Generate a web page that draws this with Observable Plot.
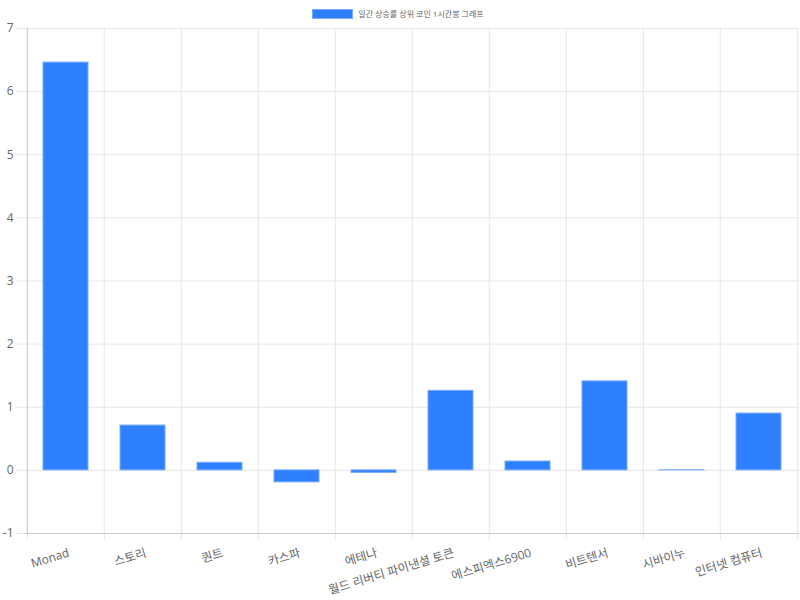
<!DOCTYPE html>
<html>
<head>
<meta charset="utf-8">
<script src="https://cdn.jsdelivr.net/npm/d3@7"></script>
<script src="https://cdn.jsdelivr.net/npm/@observablehq/plot@0.6"></script>
<style>
  html, body { margin: 0; padding: 0; background: #fff; }
  #wrap { position: relative; width: 800px; height: 600px; font-family: "Open Sans", "Noto Sans CJK KR", sans-serif; }
  #legend { position: absolute; top: 8px; left: 0; width: 800px; display: flex; justify-content: center; align-items: center; font-size: 8px; color: #666; }
  #legend .box { width: 39px; height: 8px; background: #2f80ff; border: 1px solid #78aaff; margin-right: 5px; margin-left: -4px; }
  svg { position: absolute; top: 0; left: 0; overflow: visible; }
</style>
</head>
<body>
<div id="wrap">
  <div id="legend"><span class="box"></span><span id="legendText"></span></div>
</div>
<script>
const seriesName = "일간 상승률 상위 코인 1시간봉 그래프";
const coins = ["Monad", "스토리", "퀀트", "카스파", "에테나", "월드 리버티 파이낸셜 토큰", "에스피엑스6900", "비트텐서", "시바이누", "인터넷 컴퓨터"];
const changes = [6.46, 0.71, 0.12, -0.19, -0.04, 1.26, 0.14, 1.41, 0.002, 0.90];
const yTicks = [-1, 0, 1, 2, 3, 4, 5, 6, 7];

document.getElementById("legendText").textContent = seriesName;

const data = coins.map((c, i) => ({coin: c, value: changes[i]}));
const W = 800, H = 600, mL = 25, mR = 1, mT = 28, mB = 67;
const step = (W - mL - mR) / coins.length;
const grid = "#e6e6e6";

const chart = Plot.plot({
  width: W,
  height: H,
  marginLeft: mL,
  marginRight: mR,
  marginTop: mT,
  marginBottom: mB,
  style: {fontFamily: '"Open Sans", "Noto Sans CJK KR", sans-serif', fontSize: "12px", color: "#666", background: "transparent", overflow: "visible"},
  x: {domain: coins, padding: 0, label: null},
  y: {domain: [-1, 7], label: null},
  marks: [
    Plot.ruleY(yTicks, {y: d => d, insetLeft: -8, stroke: grid}),
    Plot.ruleX(coins, {x: d => d, dx: -step / 2, y1: 7, y2: -1, insetBottom: -7, stroke: grid}),
    Plot.ruleX([coins[coins.length - 1]], {x: d => d, dx: step / 2, y1: 7, y2: -1, insetBottom: -7, stroke: grid}),
    Plot.barY(data, {x: "coin", y: "value", fill: "#2f80ff", stroke: "#78aaff", strokeWidth: 1, insetLeft: 16, insetRight: 16}),
    Plot.ruleY([-1], {stroke: "#cccccc"}),
    Plot.ruleX([coins[0]], {x: d => d, dx: -step / 2, y1: 7, y2: -1, stroke: "#cccccc"}),
    Plot.axisY({ticks: yTicks, tickSize: 0, tickPadding: 12, fill: "#666", tickFormat: d => String(d)}),
    Plot.axisX({tickSize: 0, tickRotate: -17, tickPadding: 19, dx: 3, fill: "#666"})
  ]
});
document.getElementById("wrap").appendChild(chart);
</script>
</body>
</html>
